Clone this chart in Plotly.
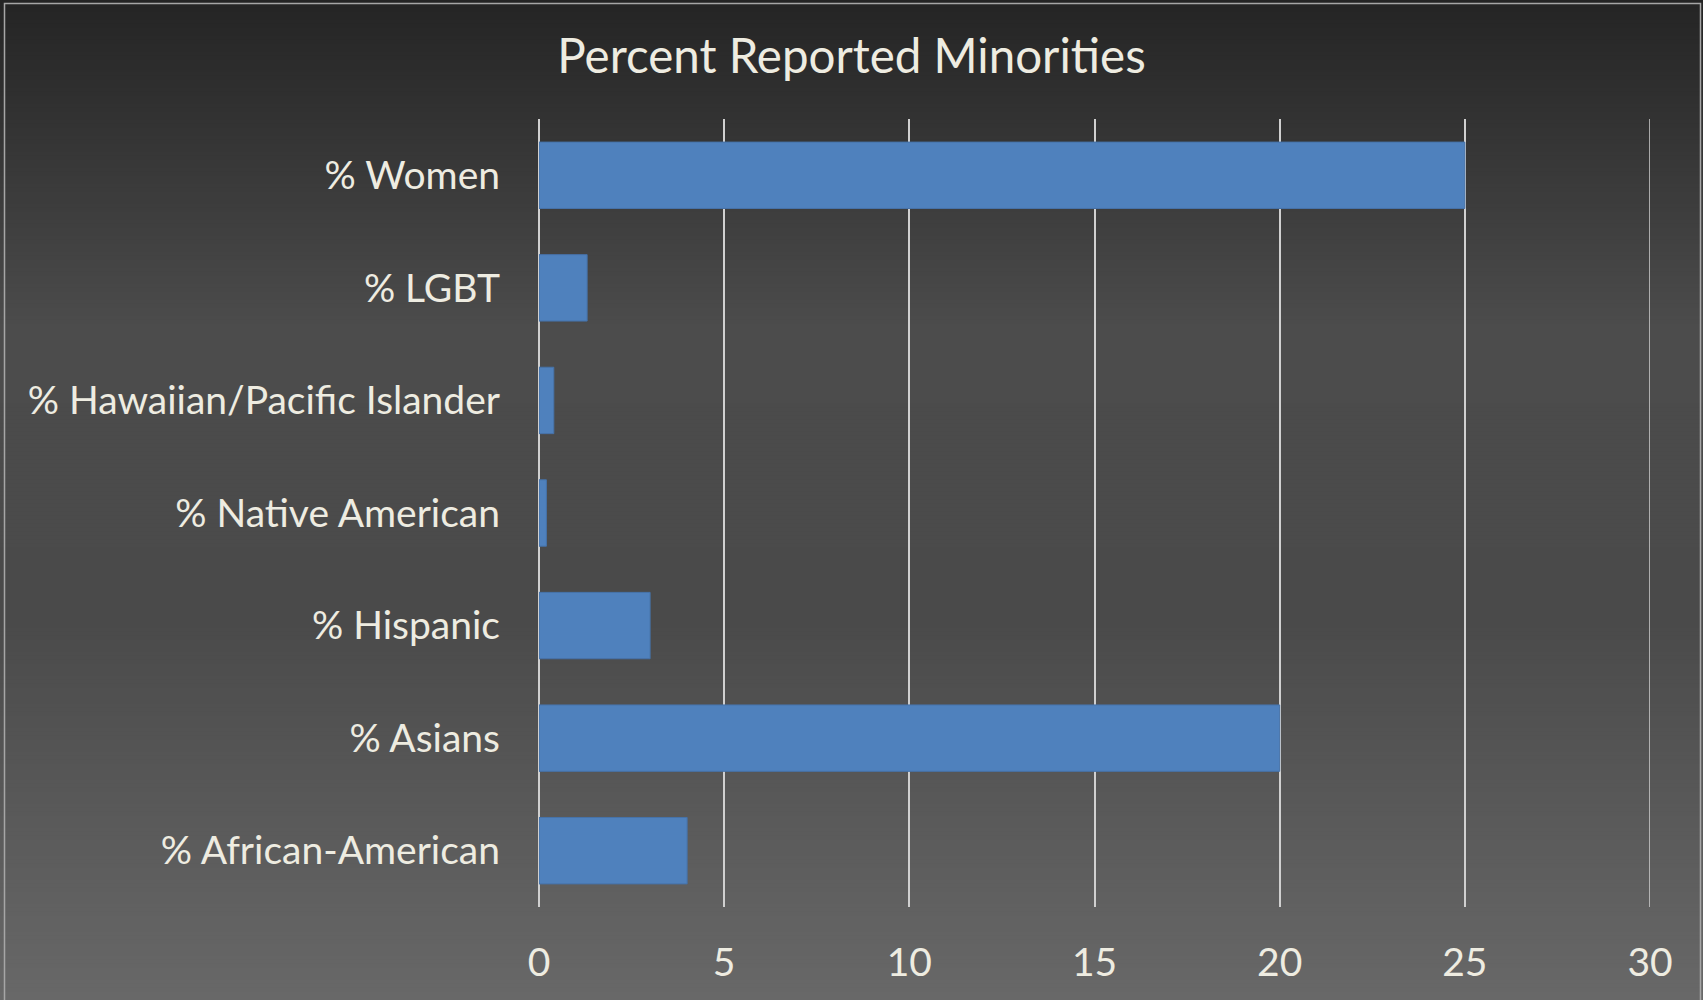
import plotly.graph_objects as go

# Chart data
categories = [
    "% Women",
    "% LGBT",
    "% Hawaiian/Pacific Islander",
    "% Native American",
    "% Hispanic",
    "% Asians",
    "% African-American",
]
percent_values = [25, 1.3, 0.4, 0.2, 3, 20, 4]
x_tick_values = [0, 5, 10, 15, 20, 25, 30]
x_tick_labels = ["0", "5", "10", "15", "20", "25", "30"]
chart_title = "Percent Reported Minorities"

# Canvas and plot-area geometry (pixels)
W, H = 1703, 1000
PLOT_L, PLOT_R, PLOT_T, PLOT_B = 539, 1650, 119, 907

TEXT = "#EEECE1"
GRID = "#d0d0d0"
FONT = "Lato"


def px_to_paper_x(px):
    return (px - PLOT_L) / (PLOT_R - PLOT_L)


def px_to_paper_y(py):
    return (PLOT_B - py) / (PLOT_B - PLOT_T)


# Vertical background gradient stops: (fraction from top, grey level)
grad_stops = [(0.0, 36), (0.33, 76), (0.62, 74), (1.0, 104)]


def grey_at(f):
    for (f0, g0), (f1, g1) in zip(grad_stops, grad_stops[1:]):
        if f0 <= f <= f1:
            t = (f - f0) / (f1 - f0) if f1 > f0 else 0
            return g0 + (g1 - g0) * t
    return grad_stops[-1][1]


shapes = []
band = 4
for top in range(0, H, band):
    g = int(round(grey_at((top + band / 2) / H)))
    shapes.append(dict(
        type="rect", layer="below", xref="paper", yref="paper",
        x0=px_to_paper_x(-2), x1=px_to_paper_x(W + 2),
        y0=px_to_paper_y(top + band + 0.5), y1=px_to_paper_y(top - 0.5),
        fillcolor=f"rgb({g},{g},{g})", line=dict(width=0),
    ))

# Gridline at the far end of the value axis (plotly skips the edge one)
shapes.append(dict(
    type="line", layer="below", xref="x", yref="paper",
    x0=x_tick_values[-1], x1=x_tick_values[-1], y0=0, y1=1,
    line=dict(color=GRID, width=1.5),
))

# Thin frame around the chart
shapes.append(dict(
    type="rect", layer="above", xref="paper", yref="paper",
    x0=px_to_paper_x(4.5), x1=px_to_paper_x(W - 2.5),
    y0=px_to_paper_y(H + 5), y1=px_to_paper_y(3.5),
    fillcolor="rgba(0,0,0,0)", line=dict(color="#a6a6a6", width=1.5),
))

fig = go.Figure(go.Bar(
    x=percent_values,
    y=categories,
    orientation="h",
    marker=dict(color="#4F81BD", line=dict(color="#4672a8", width=1)),
))

fig.update_layout(
    width=W, height=H,
    margin=dict(l=PLOT_L, r=W - PLOT_R, t=PLOT_T, b=H - PLOT_B, pad=0),
    paper_bgcolor="#4a4a4a",
    plot_bgcolor="rgba(0,0,0,0)",
    bargap=0.41,
    showlegend=False,
    font=dict(family=FONT, color=TEXT, size=39),
    title=dict(
        text=chart_title, x=0.5, xref="container", xanchor="center",
        y=1 - 56 / H, yref="container", yanchor="middle",
        font=dict(family=FONT, size=47.5, color=TEXT),
    ),
    shapes=shapes,
)

fig.update_xaxes(
    range=[0, 30],
    tickvals=x_tick_values, ticktext=x_tick_labels,
    showgrid=True, gridcolor=GRID, gridwidth=1.5,
    zeroline=True, zerolinecolor=GRID, zerolinewidth=1.5,
    showline=False, ticks="", ticklabelstandoff=29,
    tickfont=dict(family=FONT, size=39, color=TEXT),
)
fig.update_yaxes(
    autorange="reversed",
    showgrid=False, zeroline=False, showline=False,
    ticks="", ticklabelstandoff=38,
    tickfont=dict(family=FONT, size=39, color=TEXT),
)

fig.write_html("out.html")
